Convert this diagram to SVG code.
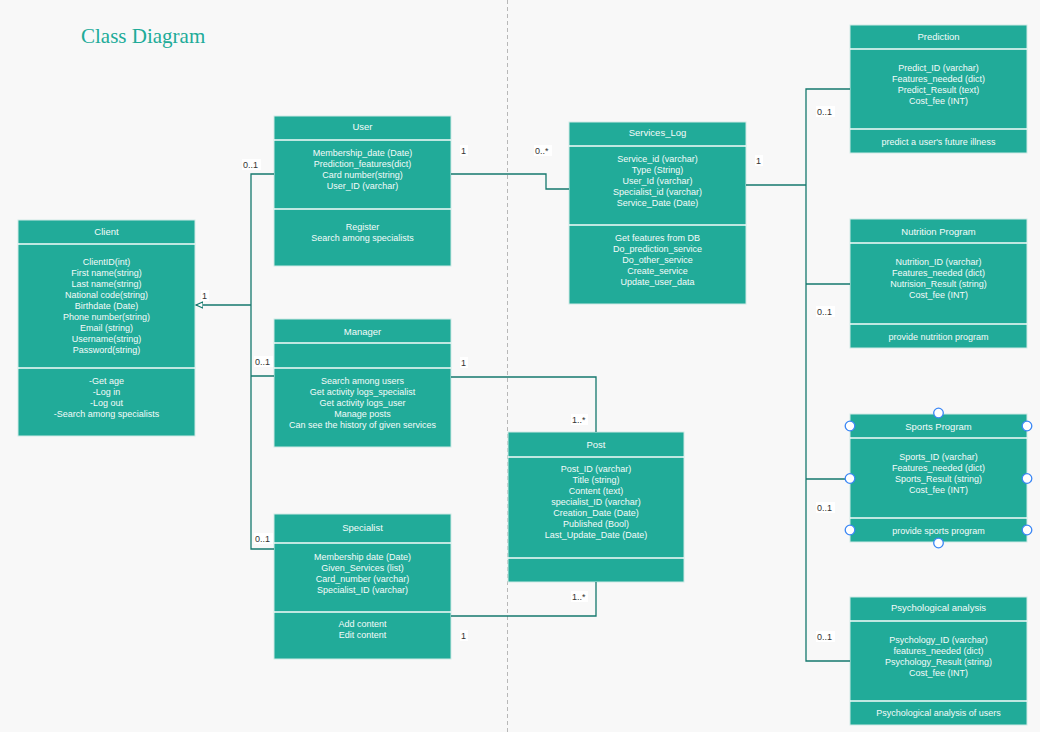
<svg xmlns="http://www.w3.org/2000/svg" width="1040" height="732" viewBox="0 0 1040 732">
<defs>
<style>
.box{fill:#21ab99;stroke:#cfe9e5;stroke-width:1}
.sep{stroke:#f4fbfa;stroke-width:1.5}
.t{font-family:"Liberation Sans",Arial,sans-serif;font-size:9px;fill:#f4fbfa;text-anchor:middle}
.h{font-family:"Liberation Sans",Arial,sans-serif;font-size:9.5px;fill:#f4fbfa;text-anchor:middle}
.conn{fill:none;stroke:#15786d;stroke-width:1.3}
.lbl{font-family:"Liberation Sans",Arial,sans-serif;font-size:9px;fill:#333}
.lb{fill:#ffffff}
.hd{fill:#ffffff;stroke:#3b87f5;stroke-width:1.3}
</style>
<marker id="tri" markerWidth="10" markerHeight="10" refX="7" refY="4" orient="auto" markerUnits="userSpaceOnUse">
<path d="M7,4 L0,0.8 L0,7.2 Z" fill="#ffffff" stroke="#15786d" stroke-width="1.2"/>
</marker>
</defs>
<rect width="1040" height="732" fill="#f8f8f8"/>
<line x1="507.5" y1="0" x2="507.5" y2="732" stroke="#b8b8b8" stroke-width="1" stroke-dasharray="4,3"/>
<text x="81" y="43" font-family="Liberation Serif,Times New Roman,serif" font-size="21" fill="#20ab98">Class Diagram</text>

<g id="client">
<rect class="box" x="18" y="220" width="177" height="216"/>
<line class="sep" x1="18" y1="244" x2="195" y2="244"/>
<line class="sep" x1="18" y1="368" x2="195" y2="368"/>
<text class="h" x="106.5" y="235">Client</text>
<text class="t" x="106.5" y="265">ClientID(int)</text>
<text class="t" x="106.5" y="276">First name(string)</text>
<text class="t" x="106.5" y="287">Last name(string)</text>
<text class="t" x="106.5" y="298">National code(string)</text>
<text class="t" x="106.5" y="309">Birthdate (Date)</text>
<text class="t" x="106.5" y="320">Phone number(string)</text>
<text class="t" x="106.5" y="331">Email (string)</text>
<text class="t" x="106.5" y="342">Username(string)</text>
<text class="t" x="106.5" y="353">Password(string)</text>
<text class="t" x="106.5" y="384">-Get age</text>
<text class="t" x="106.5" y="395">-Log in</text>
<text class="t" x="106.5" y="406">-Log out</text>
<text class="t" x="106.5" y="417">-Search among specialists</text>
</g>

<g id="user">
<rect class="box" x="274" y="116" width="177" height="150"/>
<line class="sep" x1="274" y1="140" x2="451" y2="140"/>
<line class="sep" x1="274" y1="209" x2="451" y2="209"/>
<text class="h" x="362.5" y="130">User</text>
<text class="t" x="362.5" y="156">Membership_date (Date)</text>
<text class="t" x="362.5" y="167">Prediction_features(dict)</text>
<text class="t" x="362.5" y="178">Card number(string)</text>
<text class="t" x="362.5" y="189">User_ID (varchar)</text>
<text class="t" x="362.5" y="230">Register</text>
<text class="t" x="362.5" y="241">Search among specialists</text>
</g>

<g id="manager">
<rect class="box" x="274" y="319" width="177" height="128"/>
<line class="sep" x1="274" y1="343" x2="451" y2="343"/>
<line class="sep" x1="274" y1="368" x2="451" y2="368"/>
<text class="h" x="362.5" y="335">Manager</text>
<text class="t" x="362.5" y="384">Search among users</text>
<text class="t" x="362.5" y="395">Get activity logs_specialist</text>
<text class="t" x="362.5" y="406">Get activity logs_user</text>
<text class="t" x="362.5" y="417">Manage posts</text>
<text class="t" x="362.5" y="428">Can see the history of given services</text>
</g>

<g id="specialist">
<rect class="box" x="274" y="514" width="177" height="145"/>
<line class="sep" x1="274" y1="543" x2="451" y2="543"/>
<line class="sep" x1="274" y1="612" x2="451" y2="612"/>
<text class="h" x="362.5" y="531">Specialist</text>
<text class="t" x="362.5" y="560">Membership date (Date)</text>
<text class="t" x="362.5" y="571">Given_Services (list)</text>
<text class="t" x="362.5" y="582">Card_number (varchar)</text>
<text class="t" x="362.5" y="593">Specialist_ID (varchar)</text>
<text class="t" x="362.5" y="627">Add content</text>
<text class="t" x="362.5" y="638">Edit content</text>
</g>

<g id="post">
<rect class="box" x="508" y="432" width="176" height="150"/>
<line class="sep" x1="508" y1="457" x2="684" y2="457"/>
<line class="sep" x1="508" y1="558" x2="684" y2="558"/>
<text class="h" x="596" y="448">Post</text>
<text class="t" x="596" y="472">Post_ID (varchar)</text>
<text class="t" x="596" y="483">Title (string)</text>
<text class="t" x="596" y="494">Content (text)</text>
<text class="t" x="596" y="505">specialist_ID (varchar)</text>
<text class="t" x="596" y="516">Creation_Date (Date)</text>
<text class="t" x="596" y="527">Published (Bool)</text>
<text class="t" x="596" y="538">Last_Update_Date (Date)</text>
</g>

<g id="services_log">
<rect class="box" x="569" y="122" width="177" height="182"/>
<line class="sep" x1="569" y1="146" x2="746" y2="146"/>
<line class="sep" x1="569" y1="225" x2="746" y2="225"/>
<text class="h" x="657.5" y="136">Services_Log</text>
<text class="t" x="657.5" y="162">Service_id (varchar)</text>
<text class="t" x="657.5" y="173">Type (String)</text>
<text class="t" x="657.5" y="184">User_Id (varchar)</text>
<text class="t" x="657.5" y="195">Specialist_id (varchar)</text>
<text class="t" x="657.5" y="206">Service_Date (Date)</text>
<text class="t" x="657.5" y="241">Get features  from DB</text>
<text class="t" x="657.5" y="252">Do_prediction_service</text>
<text class="t" x="657.5" y="263">Do_other_service</text>
<text class="t" x="657.5" y="274">Create_service</text>
<text class="t" x="657.5" y="285">Update_user_data</text>
</g>

<g id="prediction">
<rect class="box" x="850" y="25" width="177" height="128"/>
<line class="sep" x1="850" y1="49" x2="1027" y2="49"/>
<line class="sep" x1="850" y1="129" x2="1027" y2="129"/>
<text class="h" x="938.5" y="40">Prediction</text>
<text class="t" x="938.5" y="71">Predict_ID (varchar)</text>
<text class="t" x="938.5" y="82">Features_needed (dict)</text>
<text class="t" x="938.5" y="93">Predict_Result (text)</text>
<text class="t" x="938.5" y="104">Cost_fee (INT)</text>
<text class="t" x="938.5" y="145">predict a user's  future illness</text>
</g>

<g id="nutrition">
<rect class="box" x="850" y="219" width="177" height="129"/>
<line class="sep" x1="850" y1="243" x2="1027" y2="243"/>
<line class="sep" x1="850" y1="324" x2="1027" y2="324"/>
<text class="h" x="938.5" y="235">Nutrition Program</text>
<text class="t" x="938.5" y="265">Nutrition_ID (varchar)</text>
<text class="t" x="938.5" y="276">Features_needed (dict)</text>
<text class="t" x="938.5" y="287">Nutrision_Result (string)</text>
<text class="t" x="938.5" y="298">Cost_fee (INT)</text>
<text class="t" x="938.5" y="340">provide nutrition program</text>
</g>

<g id="sports">
<rect class="box" x="850" y="414" width="177" height="128"/>
<line class="sep" x1="850" y1="438" x2="1027" y2="438"/>
<line class="sep" x1="850" y1="518" x2="1027" y2="518"/>
<text class="h" x="938.5" y="430">Sports Program</text>
<text class="t" x="938.5" y="460">Sports_ID (varchar)</text>
<text class="t" x="938.5" y="471">Features_needed (dict)</text>
<text class="t" x="938.5" y="482">Sports_Result (string)</text>
<text class="t" x="938.5" y="493">Cost_fee (INT)</text>
<text class="t" x="938.5" y="534">provide sports program</text>
</g>

<g id="psychological">
<rect class="box" x="850" y="597" width="177" height="128"/>
<line class="sep" x1="850" y1="621" x2="1027" y2="621"/>
<line class="sep" x1="850" y1="701" x2="1027" y2="701"/>
<text class="h" x="938.5" y="611">Psychological analysis</text>
<text class="t" x="938.5" y="643">Psychology_ID (varchar)</text>
<text class="t" x="938.5" y="654">features_needed (dict)</text>
<text class="t" x="938.5" y="665">Psychology_Result (string)</text>
<text class="t" x="938.5" y="676">Cost_fee (INT)</text>
<text class="t" x="938.5" y="716">Psychological analysis of users</text>
</g>

<g id="connectors">
<path class="conn" d="M274,174 H251 V549 H274 M251,376 H274 M251,305 H196" marker-end="url(#tri)"/>
<path class="conn" d="M451,174 H546 V189 H569"/>
<path class="conn" d="M746,185 H806 M850,89 H806 V661 H850 M806,284 H850 M806,479 H850"/>
<path class="conn" d="M451,377 H596 V432"/>
<path class="conn" d="M451,616 H596 V582"/>
<g>
<rect class="lb" x="242" y="159" width="19" height="11"/><text class="lbl" x="243" y="168">0..1</text>
<rect class="lb" x="254" y="356" width="19" height="11"/><text class="lbl" x="255" y="365">0..1</text>
<rect class="lb" x="254" y="533" width="19" height="11"/><text class="lbl" x="255" y="542">0..1</text>
<rect class="lb" x="201" y="290" width="8" height="11"/><text class="lbl" x="202" y="299">1</text>
<rect class="lb" x="460" y="145" width="8" height="11"/><text class="lbl" x="461" y="154">1</text>
<rect class="lb" x="534" y="145" width="18" height="11"/><text class="lbl" x="535" y="154">0..*</text>
<rect class="lb" x="755" y="155" width="8" height="11"/><text class="lbl" x="756" y="164">1</text>
<rect class="lb" x="460" y="357" width="8" height="11"/><text class="lbl" x="461" y="366">1</text>
<rect class="lb" x="571" y="414" width="17" height="11"/><text class="lbl" x="572" y="423">1..*</text>
<rect class="lb" x="571" y="591" width="17" height="11"/><text class="lbl" x="572" y="600">1..*</text>
<rect class="lb" x="460" y="630" width="8" height="11"/><text class="lbl" x="461" y="639">1</text>
<rect class="lb" x="816" y="106" width="19" height="11"/><text class="lbl" x="817" y="115">0..1</text>
<rect class="lb" x="816" y="306" width="19" height="11"/><text class="lbl" x="817" y="315">0..1</text>
<rect class="lb" x="816" y="502" width="19" height="11"/><text class="lbl" x="817" y="511">0..1</text>
<rect class="lb" x="816" y="631" width="19" height="11"/><text class="lbl" x="817" y="640">0..1</text>
</g>
</g>

<g id="sports-handles">
<circle class="hd" cx="938.5" cy="413" r="4.8"/>
<circle class="hd" cx="850" cy="426" r="4.8"/>
<circle class="hd" cx="1027" cy="426" r="4.8"/>
<circle class="hd" cx="850" cy="478.5" r="4.8"/>
<circle class="hd" cx="1027" cy="478.5" r="4.8"/>
<circle class="hd" cx="850" cy="530" r="4.8"/>
<circle class="hd" cx="1027" cy="530" r="4.8"/>
<circle class="hd" cx="938.5" cy="543" r="4.8"/>
</g>
</svg>
